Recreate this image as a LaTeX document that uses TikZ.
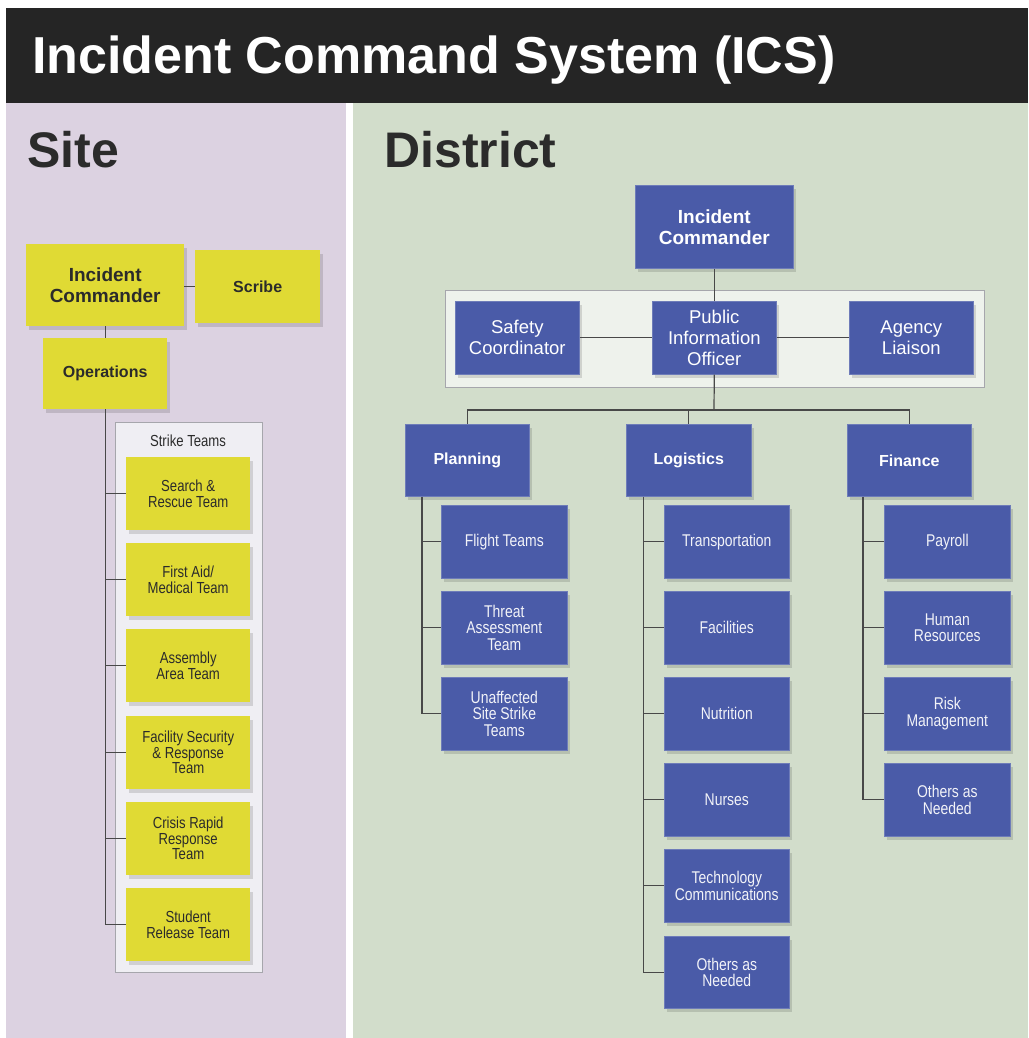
\documentclass[tikz,border=0pt]{standalone}
\usepackage{fontspec}
\setmainfont{Liberation Sans}
\newfontfamily\narrowf[FakeStretch=0.82]{Liberation Sans}
\usetikzlibrary{shadows}
\definecolor{lav}{HTML}{DCD2E1}
\definecolor{grn}{HTML}{D2DDCB}
\definecolor{yel}{HTML}{E0DA34}
\definecolor{blu}{HTML}{4A5BA8}
\definecolor{bar}{HTML}{252525}
\definecolor{ink}{HTML}{2B2B2B}
\definecolor{wire}{HTML}{484848}
\definecolor{stbox}{HTML}{EFEEF3}
\definecolor{dtbox}{HTML}{EEF2EC}
\definecolor{frame}{HTML}{A6A6AC}
\definecolor{subtxt}{HTML}{F2F3F8}
\begin{document}
\begin{tikzpicture}[x=1pt,y=-1pt,
  box/.style={anchor=north west, inner sep=0pt, align=center,
    drop shadow={shadow xshift=3pt, shadow yshift=-3.5pt, fill=black, draw=none, opacity=0.13}},
  sz/.style 2 args={minimum width=#1pt, minimum height=#2pt},
  ybox/.style={box, fill=yel, text=ink},
  bbox/.style={box, fill=blu, draw=blu!80!white, line width=0.6pt, text=white},
  yhead/.style={ybox, font=\bfseries\fontsize{16}{20}\selectfont},
  yteam/.style={ybox, sz={124}{73}, font=\narrowf\fontsize{16}{15.5}\selectfont},
  bhead/.style={bbox, sz={124}{72}, font=\bfseries\fontsize{16}{20}\selectfont},
  bstaff/.style={bbox, sz={124}{73}, font=\fontsize{18.5}{21}\selectfont},
  bsub/.style={bbox, sz={125}{73}, text=subtxt, font=\narrowf\fontsize{17}{16.5}\selectfont},
  wirestyle/.style={draw=wire, line width=1.2pt},
  container/.style={anchor=north west, inner sep=0pt, line width=0.8pt, draw=frame},
  panelhead/.style={anchor=base west, inner sep=0pt, text=ink, font=\bfseries\fontsize{50}{60}\selectfont}
]
\useasboundingbox (0,0) rectangle (1028,1038);
% panels
\fill[bar] (6,8) rectangle (1028,103);
\fill[lav] (6,103) rectangle (346,1038);
\fill[grn] (353,103) rectangle (1028,1038);

\node[anchor=base west, inner sep=0pt, text=white, font=\bfseries\fontsize{52}{60}\selectfont] (title) at (32,74) {Incident Command System (ICS)};
\node[panelhead] (site) at (27,167) {Site};
\node[panelhead] (district) at (384,167) {District};

% ---------------- Site ----------------
\node[container, sz={147}{550}, fill=stbox] (stc) at (115,422) {};
\node[inner sep=0pt, text=ink, font=\narrowf\fontsize{16}{18}\selectfont] (stl) at (188,441) {Strike Teams};

\node[ybox, sz={158}{82}, font=\bfseries\fontsize{19}{21}\selectfont] (sic) at (26,244) {Incident\\Commander};
\node[yhead, sz={125}{73}] (scribe) at (195,250) {Scribe};
\node[yhead, sz={124}{71}] (ops) at (43,338) {Operations};

\node[yteam] (t1) at (126,457) {Search \&\\Rescue Team};
\node[yteam] (t2) at (126,543) {First Aid/\\Medical Team};
\node[yteam] (t3) at (126,629) {Assembly\\Area Team};
\node[yteam] (t4) at (126,716) {Facility Security\\\& Response\\Team};
\node[yteam] (t5) at (126,802) {Crisis Rapid\\Response\\Team};
\node[yteam] (t6) at (126,888) {Student\\Release Team};

\draw[wirestyle] (sic.east |- scribe.west) -- (scribe.west);
\draw[wirestyle] (sic.south) -- (ops.north);
\draw[wirestyle] (ops.south) -- (ops.south |- t6.west) -- (t6.west);
\foreach \t in {t1,t2,t3,t4,t5}
  \draw[wirestyle] (ops.south |- \t.west) -- (\t.west);

% ---------------- District ----------------
\node[container, sz={539}{97}, fill=dtbox] (staff) at (445,290) {};

\node[bbox, sz={158}{83}, font=\bfseries\fontsize{19}{21}\selectfont] (dic) at (635,185) {Incident\\Commander};
\node[bstaff] (safety) at (455,301) {Safety\\Coordinator};
\node[bstaff] (pio) at (652,301) {Public\\Information\\Officer};
\node[bstaff] (agency) at (849,301) {Agency\\Liaison};

\node[bhead] (plan) at (405,424) {Planning};
\node[bhead, minimum width=125pt] (logi) at (626,424) {Logistics};
\node[bhead] (fin) at (847,424) {Finance};

\node[bsub, minimum width=126pt] (p1) at (441,505) {Flight Teams};
\node[bsub, minimum width=126pt] (p2) at (441,591) {Threat\\Assessment\\Team};
\node[bsub, minimum width=126pt] (p3) at (441,677) {Unaffected\\Site Strike\\Teams};

\node[bsub] (l1) at (664,505) {Transportation};
\node[bsub] (l2) at (664,591) {Facilities};
\node[bsub] (l3) at (664,677) {Nutrition};
\node[bsub] (l4) at (664,763) {Nurses};
\node[bsub] (l5) at (664,849) {Technology\\Communications};
\node[bsub, minimum height=72pt] (l6) at (664,936) {Others as\\Needed};

\node[bsub, minimum width=126pt] (f1) at (884,505) {Payroll};
\node[bsub, minimum width=126pt] (f2) at (884,591) {Human\\Resources};
\node[bsub, minimum width=126pt] (f3) at (884,677) {Risk\\Management};
\node[bsub, minimum width=126pt] (f4) at (884,763) {Others as\\Needed};

\coordinate (bus) at (714,410);
\draw[wirestyle] (dic.south) -- (pio.north);
\draw[wirestyle] (safety.east) -- (pio.west);
\draw[wirestyle] (pio.east) -- (agency.west);
\draw[wirestyle] (pio.south) -- (bus);
\draw[wirestyle] (plan.north) -- (plan.north |- bus) -- (fin.north |- bus) -- (fin.north);
\draw[wirestyle] (logi.north |- bus) -- (logi.north);

\coordinate (pv) at ([xshift=17pt]plan.south west);
\coordinate (lv) at ([xshift=17.5pt]logi.south west);
\coordinate (fv) at ([xshift=16pt]fin.south west);
\draw[wirestyle] (pv) -- (pv |- p3.west) -- (p3.west);
\foreach \c in {p1,p2} \draw[wirestyle] (pv |- \c.west) -- (\c.west);
\draw[wirestyle] (lv) -- (lv |- l6.west) -- (l6.west);
\foreach \c in {l1,l2,l3,l4,l5} \draw[wirestyle] (lv |- \c.west) -- (\c.west);
\draw[wirestyle] (fv) -- (fv |- f4.west) -- (f4.west);
\foreach \c in {f1,f2,f3} \draw[wirestyle] (fv |- \c.west) -- (\c.west);
\end{tikzpicture}
\end{document}
